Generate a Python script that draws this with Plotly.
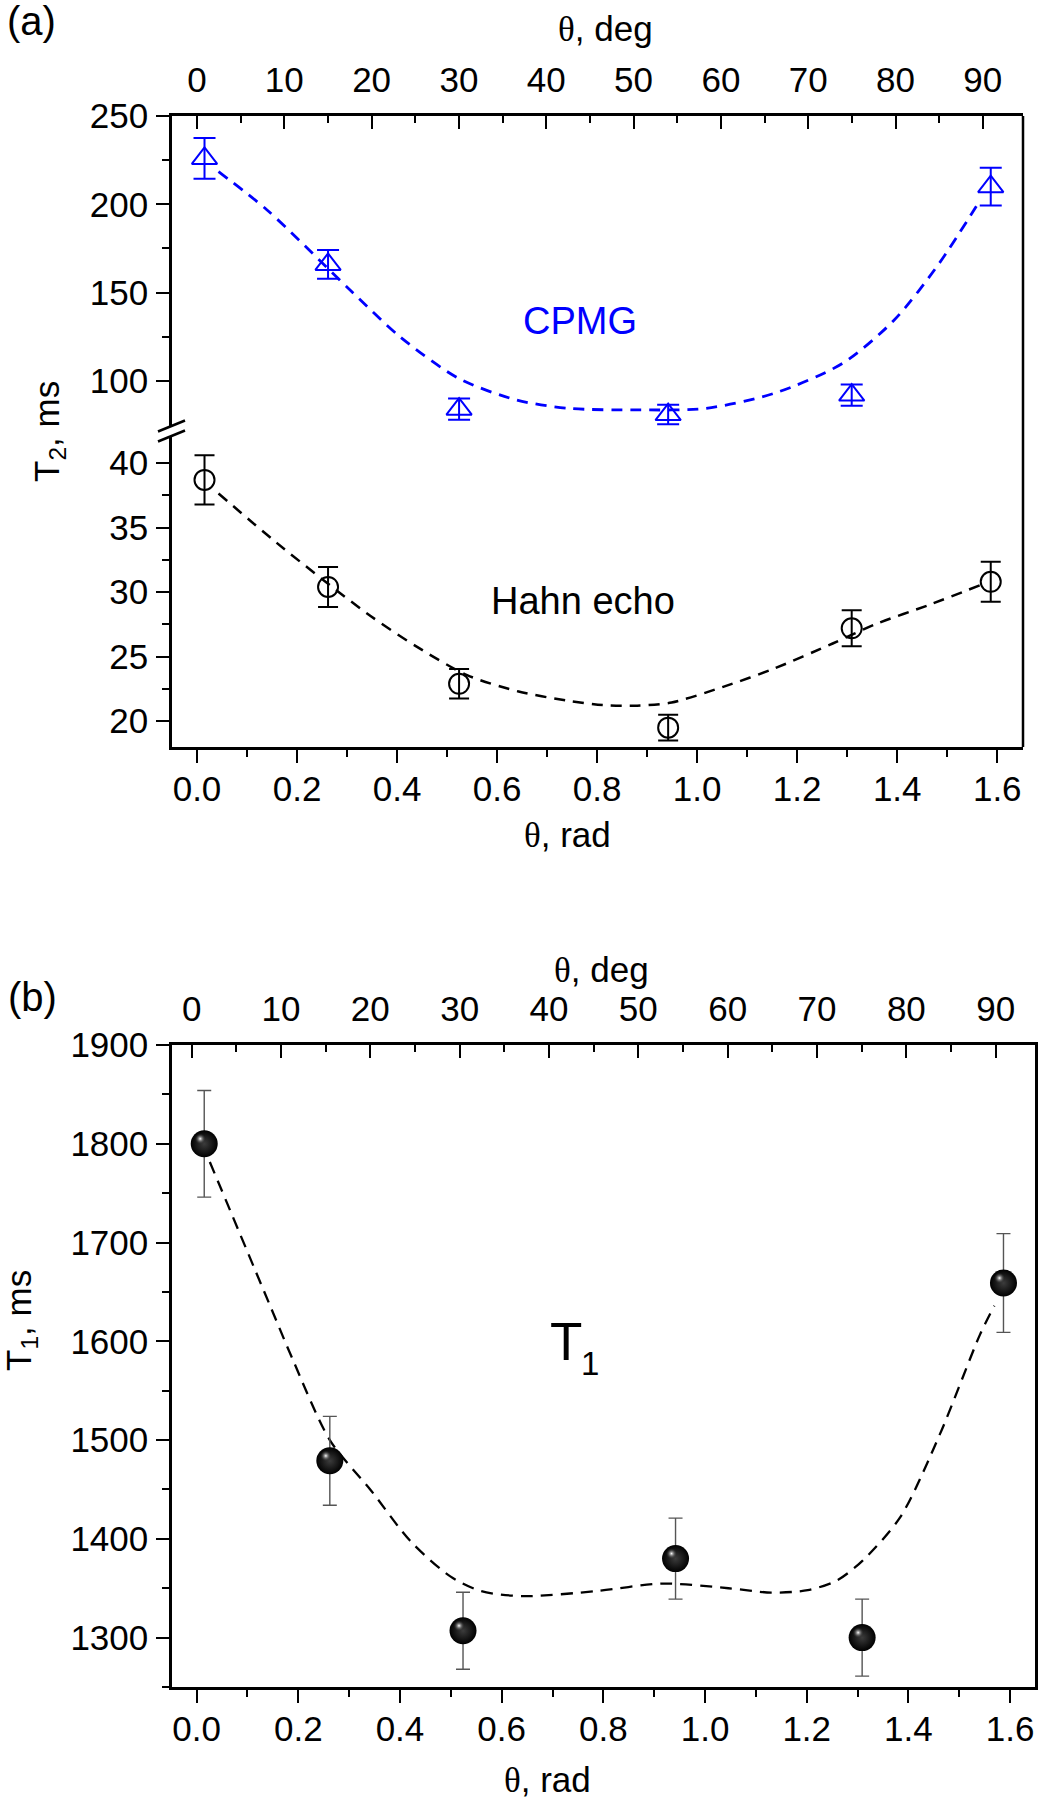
import numpy as np
import plotly.graph_objects as go

# ---------------- data ----------------
theta_rad = [0.015, 0.262, 0.524, 0.942, 1.309, 1.587]

cpmg_t2 = [226, 166, 84, 81, 92, 210]
cpmg_err = [11.5, 8.2, 6.0, 5.5, 6.0, 10.7]

hahn_t2 = [38.7, 30.4, 22.9, 19.5, 27.2, 30.8]
hahn_err = [1.9, 1.55, 1.15, 1.0, 1.4, 1.55]

t1_vals = [1800, 1479, 1307, 1380, 1300, 1659]
t1_err = [54, 45, 39, 41, 39, 50]

cpmg_fit_x = [0.043, 0.140, 0.306, 0.406, 0.523, 0.639, 0.743, 0.880, 1.017, 1.154, 1.291, 1.394, 1.484, 1.566]
cpmg_fit_y = [218.5, 196.8, 151.5, 125.0, 101.5, 89.2, 84.5, 83.6, 84.5, 93.0, 110.0, 134.5, 166.6, 202.5]

hahn_fit_x = [0.043, 0.160, 0.340, 0.440, 0.540, 0.643, 0.740, 0.812, 0.880, 0.949, 1.052, 1.154, 1.271, 1.360, 1.463, 1.566]
hahn_fit_y = [37.65, 33.8, 28.35, 25.76, 23.57, 22.3, 21.6, 21.25, 21.2, 21.45, 22.66, 24.08, 26.02, 27.57, 29.0, 30.54]

t1_fit_x = [0.026, 0.147, 0.190, 0.262, 0.343, 0.420, 0.499, 0.560, 0.642, 0.785, 0.916, 1.046, 1.130, 1.202, 1.260, 1.310, 1.384, 1.462, 1.541, 1.569]
t1_fit_y = [1781.6, 1633, 1580.5, 1500, 1449, 1398, 1362, 1347, 1342, 1347, 1354.7, 1350, 1345.6, 1348, 1358, 1378, 1422, 1506, 1607, 1636]

deg_ticks = [0, 10, 20, 30, 40, 50, 60, 70, 80, 90]
rad_ticks = [0.0, 0.2, 0.4, 0.6, 0.8, 1.0, 1.2, 1.4, 1.6]

theta_deg = list(np.degrees(theta_rad))

# ---------------- layout helpers ----------------
W, H = 1038, 1800
def px(p):
    return p / W
def py(p):
    return 1 - p / H

FONT = "Liberation Sans, Arial, sans-serif"
TH = '<span style="font-family:Liberation Serif, Times New Roman, serif">θ</span>'
BLUE = "#0000FF"
TICKF = dict(family=FONT, size=35, color="black")

# panel a geometry (pixels)
a_left, a_right = 172, 1023
a_top, a_brk_hi, a_brk_lo, a_bot = 116, 426, 436, 747
# panel b geometry
b_left, b_right = 172, 1035
b_top, b_bot = 1045, 1687

fig = go.Figure()

# ---------- panel (a) ----------
fig.add_trace(go.Scatter(x=cpmg_fit_x, y=cpmg_fit_y, mode="lines", xaxis="x", yaxis="y",
                         line=dict(color=BLUE, width=2.8, dash="11px,8px", shape="spline", smoothing=0.8),
                         showlegend=False, hoverinfo="skip"))
fig.add_trace(go.Scatter(x=theta_rad, y=cpmg_t2, mode="markers", xaxis="x", yaxis="y",
                         marker=dict(symbol="triangle-up-open", size=22, color=BLUE, line=dict(width=2, color=BLUE)),
                         error_y=dict(type="data", array=cpmg_err, color=BLUE, thickness=2, width=11),
                         showlegend=False))
fig.add_trace(go.Scatter(x=hahn_fit_x, y=hahn_fit_y, mode="lines", xaxis="x", yaxis="y2",
                         line=dict(color="black", width=2.5, dash="11px,8px", shape="spline", smoothing=0.8),
                         showlegend=False, hoverinfo="skip"))
fig.add_trace(go.Scatter(x=theta_rad, y=hahn_t2, mode="markers", xaxis="x", yaxis="y2",
                         marker=dict(symbol="circle-open", size=20, color="black", line=dict(width=2, color="black")),
                         error_y=dict(type="data", array=hahn_err, color="black", thickness=2, width=10),
                         showlegend=False))
# carrier for the top (degree) axis
fig.add_trace(go.Scatter(x=theta_deg, y=cpmg_t2, mode="markers", xaxis="x2", yaxis="y",
                         marker=dict(opacity=0), showlegend=False, hoverinfo="skip"))

# ---------- panel (b) ----------
fig.add_trace(go.Scatter(x=t1_fit_x, y=t1_fit_y, mode="lines", xaxis="x3", yaxis="y3",
                         line=dict(color="black", width=2.3, dash="12px,8px", shape="spline", smoothing=0.8),
                         showlegend=False, hoverinfo="skip"))
fig.add_trace(go.Scatter(x=theta_rad, y=t1_vals, mode="markers", xaxis="x3", yaxis="y3",
                         marker=dict(symbol="circle", size=27, color="black",
                                     gradient=dict(type="radial", color="#3c3c3c"),
                                     line=dict(width=0)),
                         error_y=dict(type="data", array=t1_err, color="#555555", thickness=1.4, width=7),
                         showlegend=False))
fig.add_trace(go.Scatter(x=theta_deg, y=t1_vals, mode="markers", xaxis="x4", yaxis="y3",
                         marker=dict(opacity=0), showlegend=False, hoverinfo="skip"))

# highlight on spheres, via slightly shifted overlay axes
b_xr = [-0.0484, 1.649]
b_yr = [1250, 1900]
kx = (b_xr[1] - b_xr[0]) / (b_right - b_left)
ky = (b_yr[1] - b_yr[0]) / (b_bot - b_top)
sx, sy = 4, 5
fig.add_trace(go.Scatter(x=theta_rad, y=t1_vals, mode="markers", xaxis="x5", yaxis="y5",
                         marker=dict(symbol="circle", size=11, color="rgba(40,40,40,0)",
                                     gradient=dict(type="radial", color="white"), line=dict(width=0)),
                         showlegend=False, hoverinfo="skip"))

axis_common = dict(showgrid=False, zeroline=False, showline=True, linecolor="black", linewidth=2.5,
                   tickcolor="black", tickwidth=2, tickfont=TICKF, automargin=False)

Y_STANDOFF = 1
X_STANDOFF = -4
TOP_STANDOFF = 7

fig.update_layout(
    template="none",
    width=W, height=H, margin=dict(l=0, r=0, t=0, b=0, pad=0, autoexpand=False),
    paper_bgcolor="white", plot_bgcolor="rgba(0,0,0,0)",
    font=dict(family=FONT, color="black"),
    xaxis=dict(domain=[px(a_left), px(a_right)], range=[-0.05, 1.6515], anchor="y2", side="bottom",
               tickmode="array", tickvals=rad_ticks, ticktext=[f"{v:.1f}" for v in rad_ticks],
               ticks="outside", ticklen=13, ticklabelstandoff=X_STANDOFF,
               minor=dict(dtick=0.1, tick0=0, ticks="outside", ticklen=7, tickwidth=2, tickcolor="black"),
               **axis_common),
    xaxis2=dict(overlaying="x", anchor="y", side="top", range=[-2.86, 94.6],
                tickmode="array", tickvals=deg_ticks, ticks="inside", ticklen=13, ticklabelstandoff=TOP_STANDOFF,
                minor=dict(dtick=5, tick0=0, ticks="inside", ticklen=7, tickwidth=2, tickcolor="black"),
                **axis_common),
    yaxis=dict(domain=[py(a_brk_hi), py(a_top)], range=[74.5, 250], anchor="x",
               tickmode="array", tickvals=[100, 150, 200, 250], ticks="outside", ticklen=13, ticklabelstandoff=Y_STANDOFF,
               minor=dict(tickmode="array", tickvals=[125, 175, 225], ticks="outside", ticklen=7, tickwidth=2, tickcolor="black"),
               **axis_common),
    yaxis2=dict(domain=[py(a_bot), py(a_brk_lo)], range=[18, 42.1], anchor="x",
                tickmode="array", tickvals=[20, 25, 30, 35, 40], ticks="outside", ticklen=13, ticklabelstandoff=Y_STANDOFF,
                minor=dict(tickmode="array", tickvals=[22.5, 27.5, 32.5, 37.5], ticks="outside", ticklen=7, tickwidth=2, tickcolor="black"),
                **axis_common),
    xaxis3=dict(domain=[px(b_left), px(b_right)], range=b_xr, anchor="y3", side="bottom",
                tickmode="array", tickvals=rad_ticks, ticktext=[f"{v:.1f}" for v in rad_ticks],
                ticks="outside", ticklen=13, ticklabelstandoff=X_STANDOFF,
                minor=dict(dtick=0.1, tick0=0, ticks="outside", ticklen=7, tickwidth=2, tickcolor="black"),
                **axis_common),
    xaxis4=dict(overlaying="x3", anchor="y3", side="top", range=[-2.2, 94.4],
                tickmode="array", tickvals=deg_ticks, ticks="inside", ticklen=13, ticklabelstandoff=TOP_STANDOFF,
                minor=dict(dtick=5, tick0=0, ticks="inside", ticklen=7, tickwidth=2, tickcolor="black"),
                **axis_common),
    yaxis3=dict(domain=[py(b_bot), py(b_top)], range=b_yr, anchor="x3", mirror=True,
                tickmode="array", tickvals=[1300, 1400, 1500, 1600, 1700, 1800, 1900],
                ticks="outside", ticklen=13, ticklabelstandoff=Y_STANDOFF,
                minor=dict(dtick=50, tick0=0, ticks="outside", ticklen=7, tickwidth=2, tickcolor="black"),
                **axis_common),
    xaxis5=dict(overlaying="x3", anchor="y5", range=[b_xr[0] + sx * kx, b_xr[1] + sx * kx], visible=False),
    yaxis5=dict(overlaying="y3", anchor="x5", range=[b_yr[0] - sy * ky, b_yr[1] - sy * ky], visible=False),
)

# right border of panel (a) and break marks
shapes = [
    dict(type="line", xref="paper", yref="paper", x0=px(a_right), x1=px(a_right), y0=py(a_bot), y1=py(a_top),
         line=dict(color="black", width=2.5)),
]
for yb in (a_brk_hi, a_brk_lo):
    shapes.append(dict(type="line", xref="paper", yref="paper",
                       x0=px(a_left - 14), x1=px(a_left + 13), y0=py(yb + 5.5), y1=py(yb - 5.5),
                       line=dict(color="black", width=2.5)))
fig.update_layout(shapes=shapes)

ann = []
def add_text(text, x, y, size, xref="paper", yref="paper", color="black", angle=0, xanchor="center",
             xshift=0, yshift=0):
    ann.append(dict(text=text, x=x, y=y, xref=xref, yref=yref, showarrow=False, textangle=angle,
                    xanchor=xanchor, yanchor="middle", xshift=xshift, yshift=yshift,
                    font=dict(family=FONT, size=size, color=color)))

add_text("(a)", px(31), py(21), 40)
add_text(TH + ", deg", px(605), py(29), 35)
add_text(TH + ", rad", px(567), py(835), 35)
add_text("T<sub>2</sub>, ms", px(49), py(432), 35, angle=-90)
add_text("CPMG", 0.766, 134, 38, xref="x", yref="y", color=BLUE)
add_text("Hahn echo", 0.771, 29.3, 38, xref="x", yref="y2")

add_text("(b)", px(32), py(997), 40)
add_text(TH + ", deg", px(601), py(970), 35)
add_text(TH + ", rad", px(547), py(1780), 35)
add_text("T<sub>1</sub>, ms", px(21), py(1321), 35, angle=-90)
add_text("T", 0.74, 1600, 53, xref="x3", yref="y3", xshift=-7)
add_text("1", 0.74, 1600, 33, xref="x3", yref="y3", xshift=17, yshift=-22)

fig.update_layout(annotations=ann)

fig.write_html("out.html", config={"displayModeBar": False},
               post_script="document.body.style.margin='0px';")
